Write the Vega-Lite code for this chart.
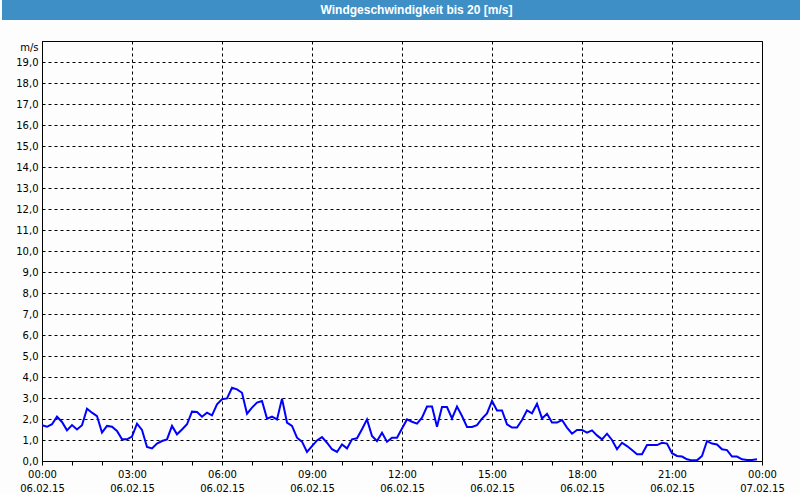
{
  "$schema": "https://vega.github.io/schema/vega-lite/v6.json",
  "background": "#fcfdfc",
  "padding": 0,
  "spacing": 20,
  "config": {
    "view": {"stroke": "black", "strokeWidth": 1},
    "font": "DejaVu Sans"
  },
  "vconcat": [
    {
      "width": 759,
      "height": 20,
      "view": {"fill": "#3d8fc6", "stroke": null},
      "data": {"values": [{"title": "Windgeschwindigkeit bis 20 [m/s]"}]},
      "mark": {"type": "text", "color": "white", "font": "Liberation Sans", "fontWeight": "bold", "fontSize": 12, "dx": -5, "baseline": "middle"},
      "encoding": {
        "text": {"field": "title", "type": "nominal"},
        "y": {
          "datum": 10, "type": "quantitative",
          "scale": {"domain": [0, 20], "nice": false},
          "axis": {
            "title": null, "values": [1, 2, 3, 4, 5, 6, 7, 8, 9, 10, 11, 12, 13, 14, 15, 16, 17, 18, 19],
            "labels": false, "domain": false, "grid": false, "translate": 0,
            "tickSize": 40, "tickWidth": 2, "tickColor": "#3d8fc6",
            "minExtent": 41, "maxExtent": 41
          }
        }
      }
    },
    {
      "width": 720,
      "height": 420,
      "data": {"values": [
        {"t": "2015-02-06T00:00", "v": 1.70}, {"t": "2015-02-06T00:10", "v": 1.63}, {"t": "2015-02-06T00:20", "v": 1.75}, {"t": "2015-02-06T00:30", "v": 2.11}, {"t": "2015-02-06T00:40", "v": 1.86}, {"t": "2015-02-06T00:50", "v": 1.46},
        {"t": "2015-02-06T01:00", "v": 1.71}, {"t": "2015-02-06T01:10", "v": 1.50}, {"t": "2015-02-06T01:20", "v": 1.70}, {"t": "2015-02-06T01:30", "v": 2.49}, {"t": "2015-02-06T01:40", "v": 2.30}, {"t": "2015-02-06T01:50", "v": 2.14},
        {"t": "2015-02-06T02:00", "v": 1.35}, {"t": "2015-02-06T02:10", "v": 1.67}, {"t": "2015-02-06T02:20", "v": 1.63}, {"t": "2015-02-06T02:30", "v": 1.43}, {"t": "2015-02-06T02:40", "v": 1.03}, {"t": "2015-02-06T02:50", "v": 1.03},
        {"t": "2015-02-06T03:00", "v": 1.16}, {"t": "2015-02-06T03:10", "v": 1.78}, {"t": "2015-02-06T03:20", "v": 1.48}, {"t": "2015-02-06T03:30", "v": 0.67}, {"t": "2015-02-06T03:40", "v": 0.60}, {"t": "2015-02-06T03:50", "v": 0.83},
        {"t": "2015-02-06T04:00", "v": 0.95}, {"t": "2015-02-06T04:10", "v": 1.03}, {"t": "2015-02-06T04:20", "v": 1.67}, {"t": "2015-02-06T04:30", "v": 1.27}, {"t": "2015-02-06T04:40", "v": 1.50}, {"t": "2015-02-06T04:50", "v": 1.75},
        {"t": "2015-02-06T05:00", "v": 2.35}, {"t": "2015-02-06T05:10", "v": 2.33}, {"t": "2015-02-06T05:20", "v": 2.11}, {"t": "2015-02-06T05:30", "v": 2.30}, {"t": "2015-02-06T05:40", "v": 2.17}, {"t": "2015-02-06T05:50", "v": 2.70},
        {"t": "2015-02-06T06:00", "v": 2.94}, {"t": "2015-02-06T06:10", "v": 2.98}, {"t": "2015-02-06T06:20", "v": 3.49}, {"t": "2015-02-06T06:30", "v": 3.41}, {"t": "2015-02-06T06:40", "v": 3.25}, {"t": "2015-02-06T06:50", "v": 2.25},
        {"t": "2015-02-06T07:00", "v": 2.54}, {"t": "2015-02-06T07:10", "v": 2.78}, {"t": "2015-02-06T07:20", "v": 2.86}, {"t": "2015-02-06T07:30", "v": 2.02}, {"t": "2015-02-06T07:40", "v": 2.11}, {"t": "2015-02-06T07:50", "v": 1.98},
        {"t": "2015-02-06T08:00", "v": 2.97}, {"t": "2015-02-06T08:10", "v": 1.83}, {"t": "2015-02-06T08:20", "v": 1.67}, {"t": "2015-02-06T08:30", "v": 1.11}, {"t": "2015-02-06T08:40", "v": 0.92}, {"t": "2015-02-06T08:50", "v": 0.43},
        {"t": "2015-02-06T09:00", "v": 0.71}, {"t": "2015-02-06T09:10", "v": 0.98}, {"t": "2015-02-06T09:20", "v": 1.14}, {"t": "2015-02-06T09:30", "v": 0.87}, {"t": "2015-02-06T09:40", "v": 0.56}, {"t": "2015-02-06T09:50", "v": 0.43},
        {"t": "2015-02-06T10:00", "v": 0.79}, {"t": "2015-02-06T10:10", "v": 0.60}, {"t": "2015-02-06T10:20", "v": 1.03}, {"t": "2015-02-06T10:30", "v": 1.08}, {"t": "2015-02-06T10:40", "v": 1.51}, {"t": "2015-02-06T10:50", "v": 1.98},
        {"t": "2015-02-06T11:00", "v": 1.19}, {"t": "2015-02-06T11:10", "v": 0.95}, {"t": "2015-02-06T11:20", "v": 1.35}, {"t": "2015-02-06T11:30", "v": 0.92}, {"t": "2015-02-06T11:40", "v": 1.11}, {"t": "2015-02-06T11:50", "v": 1.11},
        {"t": "2015-02-06T12:00", "v": 1.55}, {"t": "2015-02-06T12:10", "v": 1.98}, {"t": "2015-02-06T12:20", "v": 1.87}, {"t": "2015-02-06T12:30", "v": 1.78}, {"t": "2015-02-06T12:40", "v": 2.06}, {"t": "2015-02-06T12:50", "v": 2.59},
        {"t": "2015-02-06T13:00", "v": 2.59}, {"t": "2015-02-06T13:10", "v": 1.63}, {"t": "2015-02-06T13:20", "v": 2.57}, {"t": "2015-02-06T13:30", "v": 2.57}, {"t": "2015-02-06T13:40", "v": 2.03}, {"t": "2015-02-06T13:50", "v": 2.59},
        {"t": "2015-02-06T14:00", "v": 2.14}, {"t": "2015-02-06T14:10", "v": 1.62}, {"t": "2015-02-06T14:20", "v": 1.62}, {"t": "2015-02-06T14:30", "v": 1.71}, {"t": "2015-02-06T14:40", "v": 2.02}, {"t": "2015-02-06T14:50", "v": 2.27},
        {"t": "2015-02-06T15:00", "v": 2.86}, {"t": "2015-02-06T15:10", "v": 2.41}, {"t": "2015-02-06T15:20", "v": 2.41}, {"t": "2015-02-06T15:30", "v": 1.75}, {"t": "2015-02-06T15:40", "v": 1.59}, {"t": "2015-02-06T15:50", "v": 1.59},
        {"t": "2015-02-06T16:00", "v": 1.95}, {"t": "2015-02-06T16:10", "v": 2.41}, {"t": "2015-02-06T16:20", "v": 2.27}, {"t": "2015-02-06T16:30", "v": 2.73}, {"t": "2015-02-06T16:40", "v": 2.03}, {"t": "2015-02-06T16:50", "v": 2.25},
        {"t": "2015-02-06T17:00", "v": 1.83}, {"t": "2015-02-06T17:10", "v": 1.83}, {"t": "2015-02-06T17:20", "v": 1.95}, {"t": "2015-02-06T17:30", "v": 1.59}, {"t": "2015-02-06T17:40", "v": 1.30}, {"t": "2015-02-06T17:50", "v": 1.48},
        {"t": "2015-02-06T18:00", "v": 1.48}, {"t": "2015-02-06T18:10", "v": 1.35}, {"t": "2015-02-06T18:20", "v": 1.46}, {"t": "2015-02-06T18:30", "v": 1.22}, {"t": "2015-02-06T18:40", "v": 1.03}, {"t": "2015-02-06T18:50", "v": 1.30},
        {"t": "2015-02-06T19:00", "v": 1.00}, {"t": "2015-02-06T19:10", "v": 0.56}, {"t": "2015-02-06T19:20", "v": 0.87}, {"t": "2015-02-06T19:30", "v": 0.71}, {"t": "2015-02-06T19:40", "v": 0.52}, {"t": "2015-02-06T19:50", "v": 0.32},
        {"t": "2015-02-06T20:00", "v": 0.32}, {"t": "2015-02-06T20:10", "v": 0.76}, {"t": "2015-02-06T20:20", "v": 0.76}, {"t": "2015-02-06T20:30", "v": 0.76}, {"t": "2015-02-06T20:40", "v": 0.87}, {"t": "2015-02-06T20:50", "v": 0.83},
        {"t": "2015-02-06T21:00", "v": 0.37}, {"t": "2015-02-06T21:10", "v": 0.24}, {"t": "2015-02-06T21:20", "v": 0.21}, {"t": "2015-02-06T21:30", "v": 0.08}, {"t": "2015-02-06T21:40", "v": 0.03}, {"t": "2015-02-06T21:50", "v": 0.03},
        {"t": "2015-02-06T22:00", "v": 0.24}, {"t": "2015-02-06T22:10", "v": 0.95}, {"t": "2015-02-06T22:20", "v": 0.83}, {"t": "2015-02-06T22:30", "v": 0.79}, {"t": "2015-02-06T22:40", "v": 0.56}, {"t": "2015-02-06T22:50", "v": 0.52},
        {"t": "2015-02-06T23:00", "v": 0.21}, {"t": "2015-02-06T23:10", "v": 0.21}, {"t": "2015-02-06T23:20", "v": 0.08}, {"t": "2015-02-06T23:30", "v": 0.05}, {"t": "2015-02-06T23:40", "v": 0.05}, {"t": "2015-02-06T23:50", "v": 0.08}
      ]},
      "mark": {"type": "line", "color": "#0000ff", "strokeWidth": 2, "clip": true},
      "encoding": {
        "x": {
          "field": "t", "type": "temporal",
          "scale": {"domain": [{"year": 2015, "month": 2, "date": 6, "hours": 0}, {"year": 2015, "month": 2, "date": 7, "hours": 0}], "nice": false},
          "axis": {
            "title": null,
            "values": [
              {"year": 2015, "month": 2, "date": 6, "hours": 0}, {"year": 2015, "month": 2, "date": 6, "hours": 1}, {"year": 2015, "month": 2, "date": 6, "hours": 2},
              {"year": 2015, "month": 2, "date": 6, "hours": 3}, {"year": 2015, "month": 2, "date": 6, "hours": 4}, {"year": 2015, "month": 2, "date": 6, "hours": 5},
              {"year": 2015, "month": 2, "date": 6, "hours": 6}, {"year": 2015, "month": 2, "date": 6, "hours": 7}, {"year": 2015, "month": 2, "date": 6, "hours": 8},
              {"year": 2015, "month": 2, "date": 6, "hours": 9}, {"year": 2015, "month": 2, "date": 6, "hours": 10}, {"year": 2015, "month": 2, "date": 6, "hours": 11},
              {"year": 2015, "month": 2, "date": 6, "hours": 12}, {"year": 2015, "month": 2, "date": 6, "hours": 13}, {"year": 2015, "month": 2, "date": 6, "hours": 14},
              {"year": 2015, "month": 2, "date": 6, "hours": 15}, {"year": 2015, "month": 2, "date": 6, "hours": 16}, {"year": 2015, "month": 2, "date": 6, "hours": 17},
              {"year": 2015, "month": 2, "date": 6, "hours": 18}, {"year": 2015, "month": 2, "date": 6, "hours": 19}, {"year": 2015, "month": 2, "date": 6, "hours": 20},
              {"year": 2015, "month": 2, "date": 6, "hours": 21}, {"year": 2015, "month": 2, "date": 6, "hours": 22}, {"year": 2015, "month": 2, "date": 6, "hours": 23},
              {"year": 2015, "month": 2, "date": 7, "hours": 0}
            ],
            "labelExpr": "hours(datum.value) % 3 == 0 ? [timeFormat(datum.value, '%H:%M'), timeFormat(datum.value, '%d.%m.%y')] : ''",
            "labelOverlap": false,
            "labelFlush": false,
            "labelFont": "DejaVu Sans",
            "labelFontSize": 10,
            "labelColor": "black",
            "labelLineHeight": 14,
            "labelPadding": 4,
            "tickSize": 4,
            "tickColor": "black",
            "domainColor": "black",
            "grid": true,
            "gridColor": "black",
            "gridDash": [3, 3],
            "gridOpacity": {"condition": {"test": "hours(datum.value) % 3 == 0", "value": 1}, "value": 0}
          }
        },
        "y": {
          "field": "v", "type": "quantitative",
          "scale": {"domain": [0, 20], "nice": false},
          "axis": {
            "title": "m/s",
            "titleAngle": 0,
            "titleAlign": "right",
            "titleBaseline": "middle",
            "titleX": -4,
            "titleY": 6,
            "titleFont": "DejaVu Sans",
            "titleFontSize": 10,
            "titleFontWeight": "normal",
            "titleColor": "black",
            "values": [0, 1, 2, 3, 4, 5, 6, 7, 8, 9, 10, 11, 12, 13, 14, 15, 16, 17, 18, 19],
            "labelExpr": "replace(format(datum.value, '.1f'), '.', ',')",
            "labelFont": "DejaVu Sans",
            "labelFontSize": 10,
            "labelColor": "black",
            "labelPadding": 4,
            "ticks": false,
            "domainColor": "black",
            "minExtent": 41,
            "maxExtent": 41,
            "grid": true,
            "gridColor": "black",
            "gridDash": [3, 3],
            "gridOpacity": 1
          }
        }
      }
    }
  ]
}
